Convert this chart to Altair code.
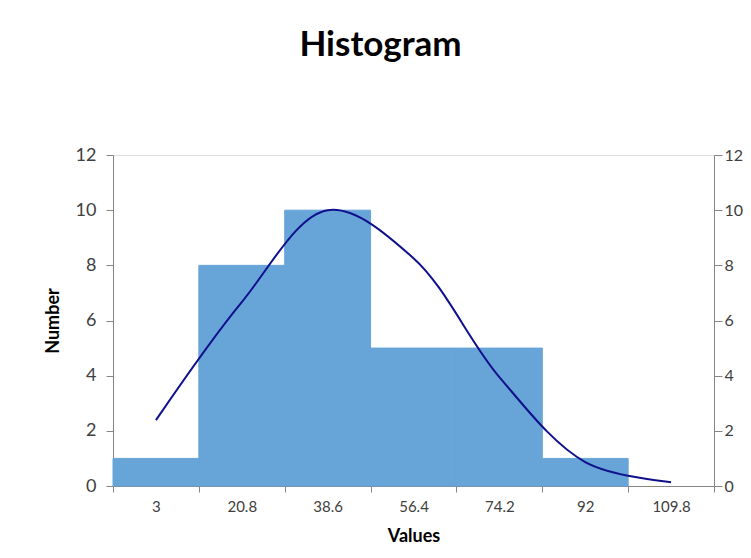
import altair as alt
import pandas as pd

categories = ["3", "20.8", "38.6", "56.4", "74.2", "92", "109.8"]
counts = [1, 8, 10, 5, 5, 1, 0]
curve = [2.39, 6.67, 10.0, 8.26, 3.95, 0.87, 0.14]

df = pd.DataFrame({"bin": categories, "count": counts, "curve": curve})

FONT = "Lato"
GRAY = "#868686"
LABEL = "#404040"
BAR = "#67A4D8"

xenc = alt.X(
    "bin:N",
    sort=categories,
    title="Values",
    scale=alt.Scale(domain=categories, paddingInner=0, paddingOuter=0),
    axis=alt.Axis(
        labelAngle=0, tickBand="extent", tickSize=6, tickColor=GRAY,
        domainColor=GRAY, labelFont=FONT, labelFontSize=15, labelColor=LABEL,
        labelPadding=7, titleFont=FONT, titleFontSize=18, titleFontWeight="bold",
        titleColor="#000000", titlePadding=13,
    ),
)

bars = alt.Chart(df).mark_bar(color=BAR, stroke=BAR, strokeWidth=1).encode(
    x=xenc,
    y=alt.Y(
        "count:Q",
        title="Number",
        scale=alt.Scale(domain=[0, 12]),
        axis=alt.Axis(
            values=[0, 2, 4, 6, 8, 10, 12], grid=False, tickSize=7, tickColor=GRAY,
            domainColor=GRAY, labelFont=FONT, labelFontSize=18, labelColor=LABEL,
            labelPadding=10, titleFont=FONT, titleFontSize=18, titleFontWeight="bold",
            titleColor="#000000", titlePadding=13,
        ),
    ),
).transform_filter("datum.count > 0")

line = alt.Chart(df).mark_line(color="#10108C", strokeWidth=2, interpolate="catmull-rom").encode(
    x=alt.X("bin:N", sort=categories),
    y=alt.Y(
        "curve:Q",
        scale=alt.Scale(domain=[0, 12]),
        axis=alt.Axis(
            orient="right", values=[0, 2, 4, 6, 8, 10, 12], grid=False, tickSize=8,
            tickColor=GRAY, domainColor=GRAY, labelFont=FONT, labelFontSize=16,
            labelColor=LABEL, labelPadding=2, title=None,
        ),
    ),
)

chart = (
    alt.layer(bars, line)
    .resolve_scale(y="independent")
    .properties(
        width=601,
        height=331,
        autosize=alt.AutoSizeParams(type="none"),
        padding={"left": 105, "top": 147, "right": 29, "bottom": 64},
        title=alt.TitleParams(
            "Histogram", font=FONT, fontSize=35, fontWeight="bold", color="#000000",
            anchor="middle", offset=83, dx=-33,
        ),
    )
    .configure_view(stroke=GRAY, strokeWidth=1)
    .configure(background="white")
)

chart.save("out.html", embed_options={"renderer": "svg", "actions": False})
